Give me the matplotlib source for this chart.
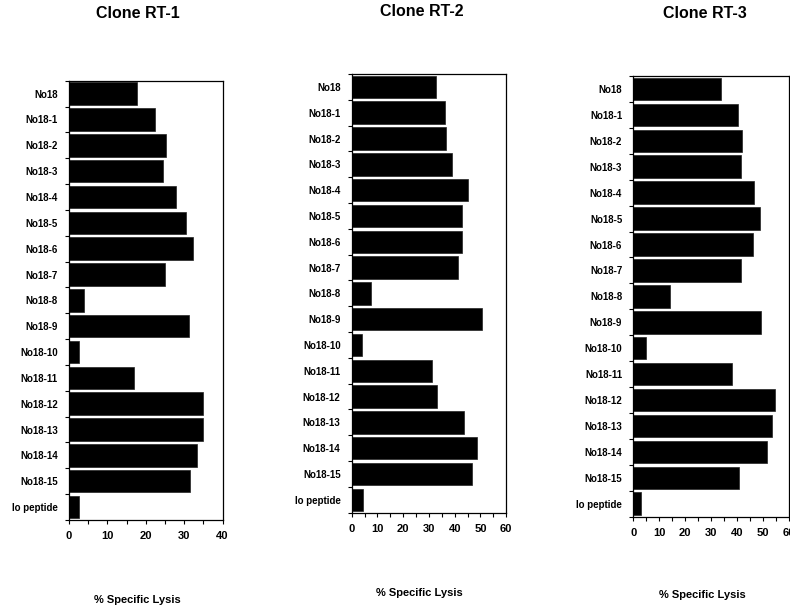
import numpy as np
import matplotlib
matplotlib.use('Agg')
import matplotlib.pyplot as plt

plt.rcParams['font.family'] = ['Liberation Sans', 'DejaVu Sans']
plt.rcParams['font.weight'] = 'bold'

peptides = ['No18', 'No18-1', 'No18-2', 'No18-3', 'No18-4', 'No18-5', 'No18-6',
            'No18-7', 'No18-8', 'No18-9', 'No18-10', 'No18-11', 'No18-12',
            'No18-13', 'No18-14', 'No18-15', 'Io peptide']

rt1 = [17.7, 22.5, 25.3, 24.5, 27.8, 30.5, 32.4, 24.9, 4.0, 31.4,
       2.7, 17.0, 35.0, 35.0, 33.3, 31.6, 2.7]
rt2 = [32.7, 36.3, 36.7, 39.1, 45.3, 42.8, 43.0, 41.2, 7.6, 50.6,
       4.0, 31.1, 33.3, 43.6, 48.6, 46.7, 4.5]
rt3 = [34.0, 40.5, 41.9, 41.8, 46.8, 48.8, 46.1, 41.8, 14.0, 49.4,
       5.1, 38.2, 54.9, 53.6, 51.8, 40.9, 2.9]

titles = ['Clone RT-1', 'Clone RT-2', 'Clone RT-3']
xmaxes = [40, 60, 60]
xlabel = '% Specific Lysis'

W, H = 790, 611
# axes boxes in pixels: left, top, right, bottom
boxes = [(69, 80.7, 222.5, 520), (351.7, 74, 506.2, 512.7), (633.3, 76, 788.5, 516.7)]
title_pos = [(137.5, 14), (421.7, 11.5), (705, 14)]
xlabel_pos = [(137.2, 600), (419.7, 592.7), (702, 595.3)]

fig = plt.figure(figsize=(W / 100, H / 100), dpi=100)

n = len(peptides)
ypos = np.arange(n)
for i, vals in enumerate([rt1, rt2, rt3]):
    l, t, r, b = boxes[i]
    ax = fig.add_axes([l / W, (H - b) / H, (r - l) / W, (b - t) / H])
    ax.barh(ypos, vals, height=0.87, color='black', edgecolor='#222222', linewidth=0.5)
    ax.set_ylim(n - 0.5, -0.5)
    ax.set_xlim(0, xmaxes[i])
    ax.set_yticks(ypos)
    ax.set_yticklabels(peptides, fontsize=7, fontweight='bold')
    ax.set_yticks(np.arange(n + 1) - 0.5, minor=True)
    ax.tick_params(axis='y', which='major', length=0, pad=8)
    ax.tick_params(axis='y', which='minor', length=3, width=0.8, direction='out')
    ax.set_xticks(np.arange(0, xmaxes[i] + 1, 10))
    ax.set_xticks(np.arange(5, xmaxes[i], 10), minor=True)
    ax.tick_params(axis='x', which='both', length=3, width=0.8, direction='out', pad=5)
    for lab in ax.get_xticklabels():
        lab.set_fontsize(8)
        lab.set_fontweight('bold')
    for sp in ax.spines.values():
        sp.set_linewidth(0.9)
    fig.text(title_pos[i][0] / W, 1 - title_pos[i][1] / H, titles[i],
             ha='center', va='center', fontsize=11.5, fontweight='bold')
    fig.text(xlabel_pos[i][0] / W, 1 - xlabel_pos[i][1] / H, xlabel,
             ha='center', va='center', fontsize=8, fontweight='bold')

fig.savefig('out.png', dpi=100)
